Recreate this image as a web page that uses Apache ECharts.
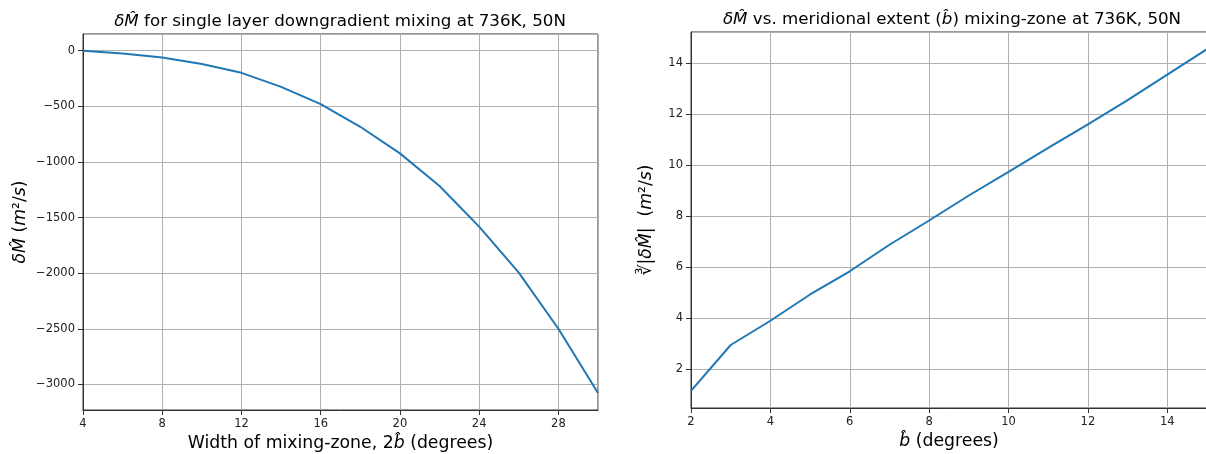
<!DOCTYPE html>
<html>
<head>
<meta charset="utf-8">
<script src="https://cdn.jsdelivr.net/npm/echarts@6/dist/echarts.min.js"></script>
<style>
  html, body { margin: 0; padding: 0; background: #fff; }
  #chart { width: 1206px; height: 454px; }
</style>
</head>
<body>
<div id="chart"></div>
<script>
// left panel: width of mixing zone (2b) vs dM
var widthDeg = [4, 6, 8, 10, 12, 14, 16, 18, 20, 22, 24, 26, 28, 30];
var deltaM = [-1.5, -26, -61, -120, -199, -325, -480, -684, -923, -1216, -1582, -1995, -2500, -3077];

// right panel: b vs cube root of |dM|
var bDeg = [2, 3, 4, 5, 6, 7, 8, 9, 10, 11, 12, 13, 14, 15];
var cbrtM = [1.15, 2.95, 3.9, 4.93, 5.84, 6.88, 7.83, 8.81, 9.74, 10.68, 11.6, 12.55, 13.55, 14.55];

var font = "DejaVu Sans";
var lineColor = "#1f77b4";

function pairs(xs, ys) {
  var out = [];
  for (var i = 0; i < xs.length; i++) out.push([xs[i], ys[i]]);
  return out;
}

function tickFmt(v) {
  return String(v).replace("-", "\u2212");
}

var titleItalic = { fontStyle: "italic", fontFamily: font, fontSize: 16.7, color: "#000" };
var labelItalic = { fontStyle: "italic", fontFamily: font, fontSize: 17.3, color: "#000" };

function axisBase(extra, showMin) {
  var a = {
    type: "value",
    axisLine: { show: true, onZero: false, lineStyle: { color: "#333", width: 1 } },
    axisTick: { show: true, inside: false, length: 5, lineStyle: { color: "#333" } },
    axisLabel: {
      color: "#222", fontFamily: font, fontSize: 11.5, margin: 8,
      showMinLabel: showMin, showMaxLabel: false, formatter: tickFmt
    },
    splitLine: { show: true, lineStyle: { color: "#b0b0b0", width: 1 } },
    nameLocation: "middle",
    nameTextStyle: { fontFamily: font, fontSize: 17.3, color: "#000", rich: { i: labelItalic } }
  };
  for (var k in extra) a[k] = extra[k];
  return a;
}

var chart = echarts.init(document.getElementById("chart"));

var option = {
  animation: false,
  backgroundColor: "#fff",
  title: [
    {
      text: "{i|δM̂} for single layer downgradient mixing at 736K, 50N",
      left: 335, top: 8, textAlign: "center",
      textStyle: { fontFamily: font, fontSize: 16.7, fontWeight: "normal", color: "#000", rich: { i: titleItalic } }
    },
    {
      text: "{i|δM̂} vs. meridional extent ({i|b̂}) mixing-zone at 736K, 50N",
      left: 947, top: 6, textAlign: "center",
      textStyle: { fontFamily: font, fontSize: 16.7, fontWeight: "normal", color: "#000", rich: { i: titleItalic } }
    }
  ],
  grid: [
    { left: 83, top: 34, width: 515, height: 376, outerBoundsMode: "none", containLabel: false,
      show: true, borderColor: "#333", borderWidth: 1, backgroundColor: "transparent" },
    { left: 691, top: 32, width: 516, height: 376, outerBoundsMode: "none", containLabel: false,
      show: true, borderColor: "#333", borderWidth: 1, backgroundColor: "transparent" }
  ],
  xAxis: [
    axisBase({ gridIndex: 0, min: 4, max: 30, interval: 4,
      name: "Width of mixing-zone, 2{i|b̂} (degrees)", nameGap: 25 }, true),
    axisBase({ gridIndex: 1, min: 2, max: 15, interval: 2,
      name: "{i|b̂} (degrees)", nameGap: 24 }, true)
  ],
  yAxis: [
    axisBase({ gridIndex: 0, min: -3230, max: 150, splitNumber: 7,
      name: "{i|δM̂} ({i|m}²/{i|s})", nameGap: 54 }, false),
    axisBase({ gridIndex: 1, min: 0.48, max: 15.22, splitNumber: 7,
      name: "∛|{i|δM̂}|  ({i|m}²/{i|s})", nameGap: 36 }, false)
  ],
  series: [
    {
      type: "line", xAxisIndex: 0, yAxisIndex: 0,
      data: pairs(widthDeg, deltaM),
      showSymbol: false, lineStyle: { color: lineColor, width: 2 }
    },
    {
      type: "line", xAxisIndex: 1, yAxisIndex: 1,
      data: pairs(bDeg, cbrtM),
      showSymbol: false, lineStyle: { color: lineColor, width: 2 }
    }
  ]
};

chart.setOption(option);
</script>
</body>
</html>
